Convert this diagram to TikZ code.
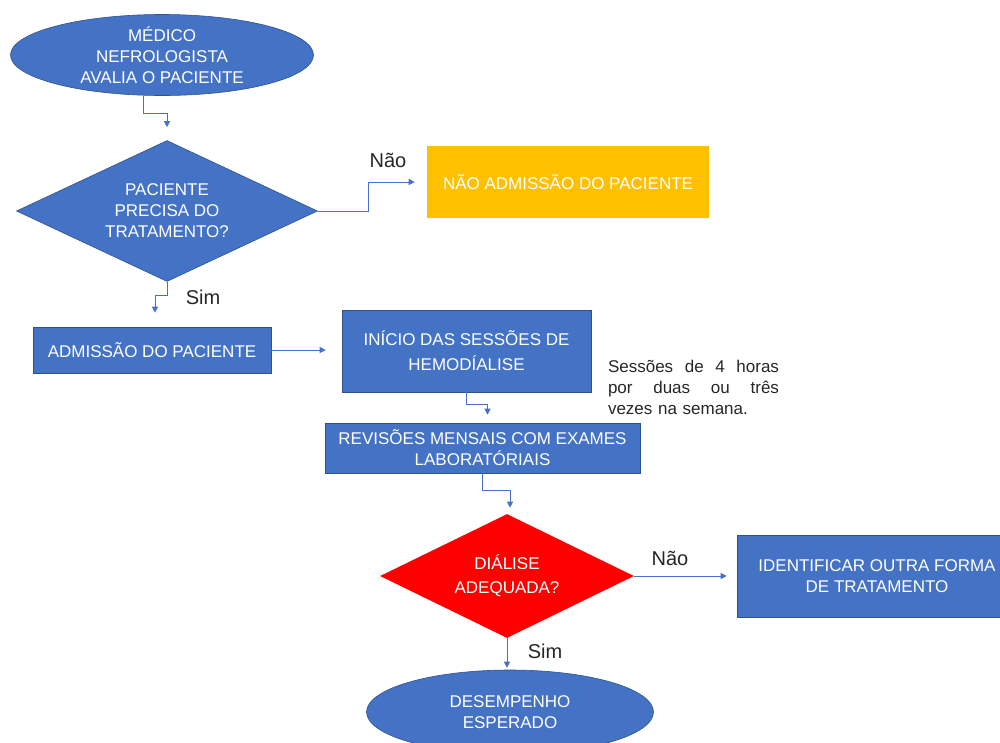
\documentclass[tikz,border=0pt]{standalone}
\usepackage{fontspec}
\setmainfont{Liberation Sans}
\usetikzlibrary{shapes.geometric,arrows.meta,positioning}

\definecolor{boxblue}{HTML}{4472C4}
\definecolor{edgeblue}{HTML}{2F528F}
\definecolor{nogold}{HTML}{FFC000}
\definecolor{alarmred}{HTML}{FF0000}

\begin{document}
\begin{tikzpicture}[x=1pt, y=-1pt,
    box/.style={rectangle, fill=boxblue, draw=edgeblue, line width=0.6pt,
        text=white, align=center, inner sep=0pt,
        font=\fontsize{17}{21}\selectfont},
    term/.style={box, ellipse},
    test/.style={box, diamond, shape aspect=2.1},
    tag/.style={text=black!85, font=\fontsize{20}{24}\selectfont},
    line/.style={draw=boxblue, line width=1pt, ->},
    >={Triangle[length=6pt,width=6pt]}]

    \clip (0,0) rectangle (1000,742);

    \node[term, minimum width=303pt, minimum height=81pt] (Med) at (162,55)
        {MÉDICO\\NEFROLOGISTA\\AVALIA O PACIENTE};
    \node[test, minimum width=301pt, minimum height=141pt] (P1) at (167,211)
        {PACIENTE\\PRECISA DO\\TRATAMENTO?};
    \node[box, fill=nogold, draw=none, minimum width=282pt, minimum height=72pt]
        (Nao) at (568,182) {NÃO ADMISSÃO DO PACIENTE};
    \node[box, minimum width=238pt, minimum height=46pt] (Adm) at (152,350)
        {ADMISSÃO DO PACIENTE};
    \node[box, minimum width=249pt, minimum height=82pt,
        font=\fontsize{17}{25}\selectfont] (Ini) at (466.5,351)
        {INÍCIO DAS SESSÕES DE\\HEMODÍALISE};
    \node[text=black!85, text width=171pt, align=left, inner sep=0pt,
        font=\fontsize{17}{21}\selectfont] (Obs) at (693.5,387)
        {Sessões\hfill de\hfill 4\hfill horas\\por\hfill duas\hfill ou\hfill três\\vezes na semana.};
    \node[box, minimum width=315pt, minimum height=50pt] (Rev) at (482.5,448)
        {REVISÕES MENSAIS COM EXAMES\\LABORATÓRIAIS};
    \node[test, fill=alarmred, draw=none, minimum width=254pt, minimum height=124pt,
        font=\fontsize{17}{24}\selectfont] (P2) at (507,576)
        {DIÁLISE\\ADEQUADA?};
    \node[box, minimum width=280pt, minimum height=82pt] (Out) at (877,576)
        {IDENTIFICAR OUTRA FORMA\\DE TRATAMENTO};
    \node[term, minimum width=287pt, minimum height=84pt] (Des) at (510,712)
        {DESEMPENHO\\ESPERADO};

    % labels of the branches
    \node[tag] (N1) at (388,160) {Não};
    \node[tag] (S1) at (203,297) {Sim};
    \node[tag] (N2) at (670,558) {Não};
    \node[tag] (S2) at (545,651) {Sim};

    % connectors
    \draw[line] ([xshift=-19pt]Med.south) -- ++(0,18) -| ([yshift=13pt]P1.north);
    \draw[line] (P1.east) -- ++(51,0) |- ([xshift=-12pt]Nao.west);
    \draw[line] (P1.south) -- ++(0,14) -| ([xshift=3pt,yshift=14pt]Adm.north);
    \draw[line] (Adm.east) -- ([xshift=-16pt]Adm.east -| Ini.west);
    \draw[line] (Ini.south) -- ++(0,12) -| ([xshift=5pt,yshift=8pt]Rev.north);
    \draw[line] (Rev.south) -- ++(0,17) -| ([xshift=3pt,yshift=6pt]P2.north);
    \draw[line] (P2.east) -- ([xshift=-10pt]P2.east -| Out.west);
    \draw[line] (P2.south) -- ([yshift=2pt]P2.south |- Des.north);
\end{tikzpicture}
\end{document}
